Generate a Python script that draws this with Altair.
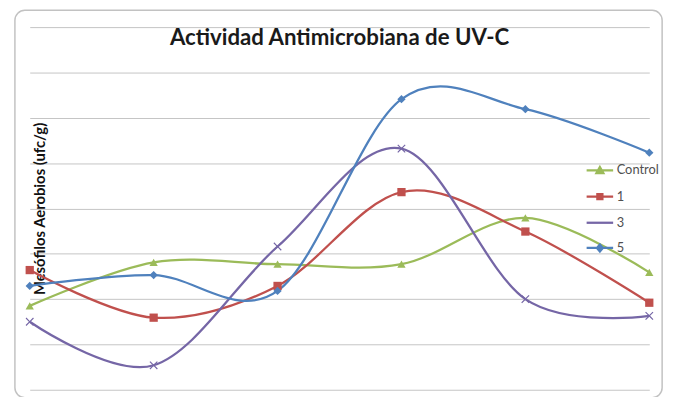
import altair as alt
import pandas as pd

# ---- data ----
muestreo = [0, 1, 2, 3, 4, 5]
series = ["Control", "1", "3", "5"]
control = [1.85, 2.81, 2.77, 2.77, 3.79, 2.59]
uv1 = [2.64, 1.59, 2.29, 4.36, 3.49, 1.92]
uv3 = [1.50, 0.54, 3.16, 5.32, 2.00, 1.63]
uv5 = [2.29, 2.53, 2.18, 6.41, 6.19, 5.23]
grid_values = [0, 1, 2, 3, 4, 5, 6, 7, 8]

# ---- styles ----
colors = ["#9BBB59", "#C0504D", "#7566A6", "#4F81BD"]
x_path = "M-1,-0.8L-0.8,-1L0,-0.2L0.8,-1L1,-0.8L0.2,0L1,0.8L0.8,1L0,0.2L-0.8,1L-1,0.8L-0.2,0Z"
markers = ["triangle-up", "square", x_path, "diamond"]
legend_paths = [
    "M-1,0H1M0,-0.26L0.26,0.2H-0.26Z",
    "M-1,0H1M-0.19,-0.19H0.19V0.19H-0.19Z",
    "M-1,0H1",
    "M-1,0H1M0,-0.26L0.22,0L0,0.26L-0.22,0Z",
]

rows = []
for name, vals in zip(series, [control, uv1, uv3, uv5]):
    for xv, yv in zip(muestreo, vals):
        rows.append({"serie": name, "muestreo": xv, "valor": yv})
df = pd.DataFrame(rows)

W, H = 627, 367

x_enc = alt.X("muestreo:Q", scale=alt.Scale(domain=[0, 5], nice=False, zero=False), axis=None)
y_enc = alt.Y(
    "valor:Q",
    scale=alt.Scale(domain=[0, 8], nice=False),
    axis=alt.Axis(
        values=grid_values,
        labels=False,
        ticks=False,
        domain=False,
        grid=True,
        gridColor="#C4C4C4",
        gridWidth=1,
        title="Mesófilos Aerobios (ufc/g)",
        titleFont="Lato",
        titleFontSize=15,
        titleFontWeight="bold",
        titleColor="#111111",
        titleAngle=270,
        titleAlign="center",
        titleBaseline="middle",
        titleX=10,
        titleY=H / 2,
    ),
)

color_scale = alt.Scale(domain=series, range=colors)

border = alt.Chart(alt.Data(values=[{}])).mark_rect(
    fill="white", fillOpacity=0, stroke="#C2C2C2", strokeWidth=1.5, cornerRadius=10
).encode(
    x=alt.value(-15), x2=alt.value(640), y=alt.value(-17), y2=alt.value(375)
)

lines = alt.Chart(df).mark_line(interpolate="cardinal", strokeWidth=2.3).encode(
    x=x_enc,
    y=y_enc,
    color=alt.Color("serie:N", scale=color_scale, legend=None),
    detail="serie:N",
)

points = alt.Chart(df).mark_point(filled=True, opacity=1, size=70).encode(
    x=x_enc,
    y=y_enc,
    color=alt.Color("serie:N", scale=color_scale, legend=None),
    shape=alt.Shape("serie:N", scale=alt.Scale(domain=series, range=markers), legend=None),
)

leg = dict(
    title=None,
    orient="none",
    legendX=562,
    legendY=130,
    symbolSize=720,
    symbolStrokeWidth=2.3,
    labelFont="Lato",
    labelFontSize=13,
    labelColor="#505050",
    labelOffset=2,
    rowPadding=3.5,
    padding=0,
)

legend_layer = alt.Chart(df).transform_filter("false").mark_point(filled=True, opacity=1).encode(
    shape=alt.Shape("serie:N", scale=alt.Scale(domain=series, range=legend_paths), legend=alt.Legend(**leg)),
    fill=alt.Fill("serie:N", scale=alt.Scale(domain=series, range=colors), legend=alt.Legend(**leg)),
    stroke=alt.Stroke("serie:N", scale=alt.Scale(domain=series, range=colors), legend=alt.Legend(**leg)),
)

chart = (
    alt.layer(border, lines, points, legend_layer)
    .resolve_scale(shape="independent", fill="independent", stroke="independent")
    .properties(
        width=W,
        height=H,
        autosize="none",
        padding={"left": 22, "top": 17, "right": 24, "bottom": 5},
        title=alt.TitleParams(
            "Actividad Antimicrobiana de UV-C",
            font="Lato",
            fontSize=22.5,
            fontWeight="bold",
            color="#1A1A1A",
            anchor="middle",
            frame="group",
            baseline="alphabetic",
            offset=-21,
            dy=37,
        ),
        background="white",
    )
    .configure_view(strokeWidth=0)
)

chart.save("out.html", embed_options={"renderer": "svg", "actions": False})
